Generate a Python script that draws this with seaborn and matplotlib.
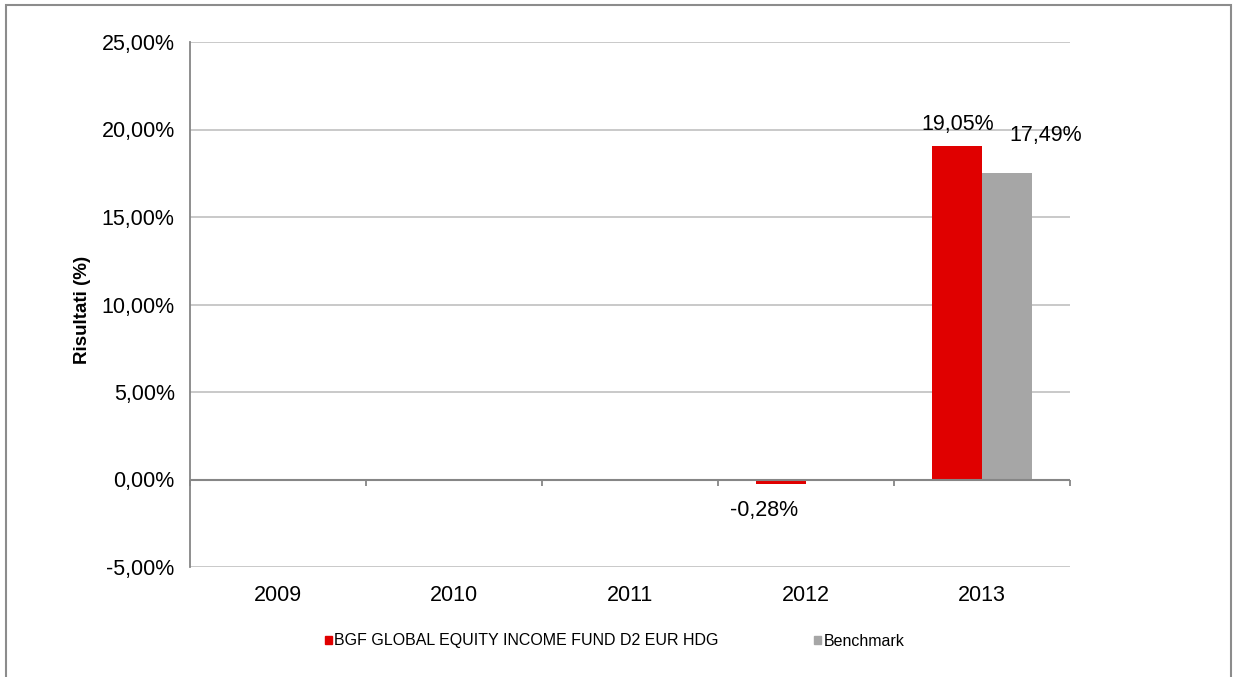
import matplotlib
matplotlib.use("Agg")
import matplotlib.pyplot as plt
import matplotlib.ticker as mticker
from matplotlib.patches import Patch, Rectangle
import numpy as np
import pandas as pd
import seaborn as sns

# --- data (percent) ---
years = ["2009", "2010", "2011", "2012", "2013"]
fund_name = "BGF GLOBAL EQUITY INCOME FUND D2 EUR HDG"
bench_name = "Benchmark"
fund_returns = [np.nan, np.nan, np.nan, -0.28, 19.05]
bench_returns = [np.nan, np.nan, np.nan, np.nan, 17.49]
y_ticks = [-5, 0, 5, 10, 15, 20, 25]

RED = "#e00000"
GREY = "#a6a6a6"

df = pd.DataFrame({
    "year": years * 2,
    "value": fund_returns + bench_returns,
    "series": [fund_name] * len(years) + [bench_name] * len(years),
})

sns.set_style("white")
plt.rcParams["font.family"] = ["Liberation Sans", "DejaVu Sans"]
plt.rcParams["text.color"] = "black"
plt.rcParams["xtick.color"] = "black"
plt.rcParams["ytick.color"] = "black"
plt.rcParams["axes.labelcolor"] = "black"


def pct(v):
    return f"{v:.2f}%".replace(".", ",")


fig = plt.figure(figsize=(12.33, 6.77), dpi=100)
ax = fig.add_axes([190 / 1233, 1 - 567 / 677, 880 / 1233, 525 / 677])

sns.barplot(
    data=df, x="year", y="value", hue="series",
    palette=[RED, GREY], width=0.57, saturation=1,
    edgecolor="none", linewidth=0,
    ax=ax, legend=False,
)

ax.set_ylim(-5, 25)
ax.set_xlim(-0.5, len(years) - 0.5)
ax.set_yticks(y_ticks)
ax.yaxis.set_major_formatter(mticker.FuncFormatter(lambda v, _: pct(v)))
ax.grid(axis="y", color="#c0c0c0", lw=1.2)
ax.set_axisbelow(True)

for side in ["top", "right", "bottom"]:
    ax.spines[side].set_visible(False)
ax.spines["left"].set_color("#868686")
ax.spines["left"].set_linewidth(1.3)
ax.axhline(0, color="#868686", lw=1.5, zorder=1)
ax.vlines(np.arange(-0.5, len(years)), 0, -0.35, color="#868686", lw=1.3,
          clip_on=False)

ax.tick_params(axis="y", length=6, color="#868686", labelsize=15.5, pad=5)
ax.tick_params(axis="x", length=0, labelsize=15.5, pad=13)
ax.set_xlabel("")
ax.set_ylabel("Risultati (%)", fontsize=13.5, fontweight="bold")
ax.yaxis.set_label_coords(-0.113, 0.49)

# data labels
for i, (fv, bv) in enumerate(zip(fund_returns, bench_returns)):
    if not np.isnan(fv):
        if fv >= 0:
            ax.text(i - 0.14, fv + 0.65, pct(fv), ha="center", va="bottom",
                    fontsize=15.5)
        else:
            ax.text(i - 0.24, fv - 0.9, pct(fv), ha="center", va="top",
                    fontsize=15.5)
    if not np.isnan(bv):
        ax.text(i + 0.36, bv + 1.55, pct(bv), ha="center", va="bottom",
                fontsize=15.5)

handles = [Patch(color=RED, label=fund_name), Patch(color=GREY, label=bench_name)]
fig.legend(handles=handles, loc="center", bbox_to_anchor=(0.4985, 1 - 641 / 677),
           ncol=2, frameon=False, fontsize=11.5, handlelength=0.42,
           handleheight=0.42, handletextpad=0.15, columnspacing=6.0)

# outer chart border
fig.patches.append(Rectangle((6 / 1233, -0.05), 1225 / 1233, 0.05 + 1 - 5 / 677,
                             transform=fig.transFigure, fill=False,
                             edgecolor="#8c8c8c", lw=1.5))

fig.savefig("out.png", dpi=100)
